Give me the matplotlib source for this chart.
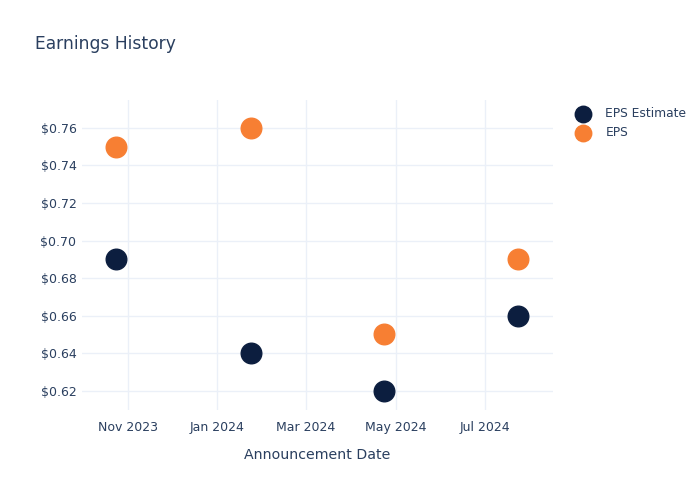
import matplotlib
matplotlib.use('Agg')
import matplotlib.pyplot as plt
import matplotlib.dates as mdates
from matplotlib.ticker import FuncFormatter
import numpy as np

dates = np.array(['2023-10-24', '2024-01-24', '2024-04-23', '2024-07-23'], dtype='datetime64[D]')
eps_estimate = [0.69, 0.64, 0.62, 0.66]
eps_actual = [0.75, 0.76, 0.65, 0.69]

text_col = '#2a3f5f'
grid_col = '#ebf0f8'

fig = plt.figure(figsize=(7, 5), dpi=100)
ax = fig.add_axes([82 / 700, 1 - 410 / 500, (553 - 82) / 700, (410 - 100) / 500])

ax.scatter(dates, eps_estimate, s=220, color='#0c1e3f', label='EPS Estimate', zorder=3)
ax.scatter(dates, eps_actual, s=220, color='#f77f33', label='EPS', zorder=3)

ax.set_xlim(np.datetime64('2023-10-01'), np.datetime64('2024-08-16'))
ax.set_ylim(0.6097, 0.7749)

ax.xaxis.set_major_locator(mdates.MonthLocator(bymonth=[1, 3, 5, 7, 11]))
ax.xaxis.set_major_formatter(mdates.DateFormatter('%b %Y'))
ax.set_yticks([0.62, 0.64, 0.66, 0.68, 0.70, 0.72, 0.74, 0.76])
ax.yaxis.set_major_formatter(FuncFormatter(lambda v, p: f'${v:.2f}'))

ax.grid(True, color=grid_col, linewidth=1)
ax.set_axisbelow(True)
for s in ax.spines.values():
    s.set_visible(False)
ax.tick_params(length=0, labelsize=9, colors=text_col)
ax.tick_params(axis='x', pad=8)
ax.tick_params(axis='y', pad=4)

ax.set_xlabel('Announcement Date', fontsize=10.2, color=text_col, labelpad=10)
fig.text(35 / 700, 1 - 44 / 500, 'Earnings History', fontsize=12.3, color=text_col, va='center')

leg = ax.legend(loc='upper left', bbox_to_anchor=(1.015, 1.012), frameon=False,
                fontsize=8.8, labelcolor=text_col, handletextpad=0.8, labelspacing=0.45,
                markerscale=0.8)

fig.savefig('out.png', dpi=100)
